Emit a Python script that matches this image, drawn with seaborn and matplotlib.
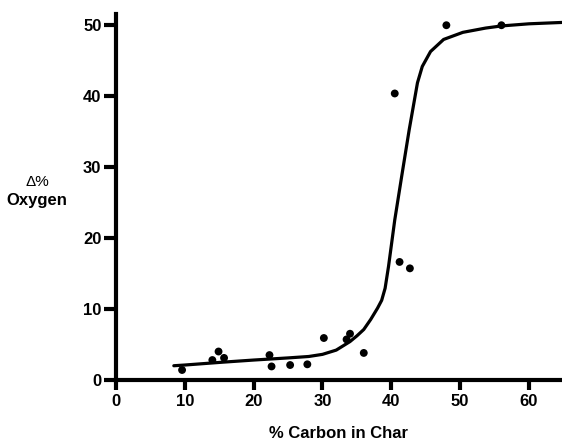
"""
Change in oxygen vs carbon content of char
"""

import matplotlib
matplotlib.use("Agg")
import matplotlib.pyplot as plt
import seaborn as sns
import numpy as np
import pandas as pd

# measured points
carbon = [9.6, 14.0, 14.9, 15.7, 22.3, 22.6, 25.3, 27.8, 30.2, 33.5, 34.0,
          36.0, 40.5, 41.2, 42.7, 48.0, 56.0]
oxygen = [1.4, 2.8, 4.0, 3.1, 3.5, 1.9, 2.1, 2.2, 5.9, 5.7, 6.5,
          3.8, 40.3, 16.6, 15.7, 49.9, 49.9]

# hand-drawn trend curve
curve_x = [8.4, 10, 15.5, 20, 25, 28, 30, 32, 34, 35, 36, 37, 38, 38.6,
           39.1, 39.6, 40.5, 41.5, 42.6, 43.8, 44.5, 45.7, 47.6, 50.4,
           53.7, 56, 60, 65]
curve_y = [2.0, 2.1, 2.5, 2.8, 3.1, 3.3, 3.6, 4.2, 5.4, 6.2, 7.1, 8.5,
           10.1, 11.2, 12.9, 16.0, 22.5, 28.6, 35.2, 41.8, 44.1, 46.2,
           47.9, 48.9, 49.5, 49.8, 50.1, 50.3]

xticks = [0, 10, 20, 30, 40, 50, 60]
yticks = [0, 10, 20, 30, 40, 50]

sns.set_style("ticks", {'axes.edgecolor': 'black', 'text.color': 'black',
                        'xtick.color': 'black', 'ytick.color': 'black',
                        'axes.labelcolor': 'black'})
plt.rcParams['font.family'] = ['Liberation Sans', 'DejaVu Sans']

fig = plt.figure(figsize=(5.62, 4.47), dpi=100)
ax = fig.add_axes([0.2064, 0.150, 0.7936, 0.819])

pts = pd.DataFrame({'carbon': carbon, 'oxygen': oxygen})
trend = pd.DataFrame({'x': curve_x, 'y': curve_y})

sns.lineplot(data=trend, x='x', y='y', ax=ax, color='black', linewidth=2.3,
             estimator=None, sort=False)
sns.scatterplot(data=pts, x='carbon', y='oxygen', ax=ax, color='black',
                s=32, edgecolor='none', zorder=3)

ax.set_xlim(0, 64.8)
ax.set_ylim(0, 51.5)
ax.set_xticks(xticks)
ax.set_yticks(yticks)

sns.despine(ax=ax)
for side in ['left', 'bottom']:
    ax.spines[side].set_linewidth(3)
ax.tick_params(axis='x', length=7, width=3, direction='out', pad=3,
               colors='black')
ax.tick_params(axis='y', length=8.5, width=3, direction='out', pad=2,
               colors='black')
for lbl in ax.get_xticklabels() + ax.get_yticklabels():
    lbl.set_fontweight('bold')
    lbl.set_fontsize(12)

ax.set_xlabel('% Carbon in Char', fontsize=12, fontweight='bold',
              labelpad=12, color='black')
ax.set_ylabel('')
fig.text(0.066, 0.593, 'Δ%', ha='center', va='center', fontsize=11,
         color='black')
fig.text(0.066, 0.552, 'Oxygen', ha='center', va='center', fontsize=12,
         fontweight='bold', color='black')

plt.savefig('out.png', dpi=100)
